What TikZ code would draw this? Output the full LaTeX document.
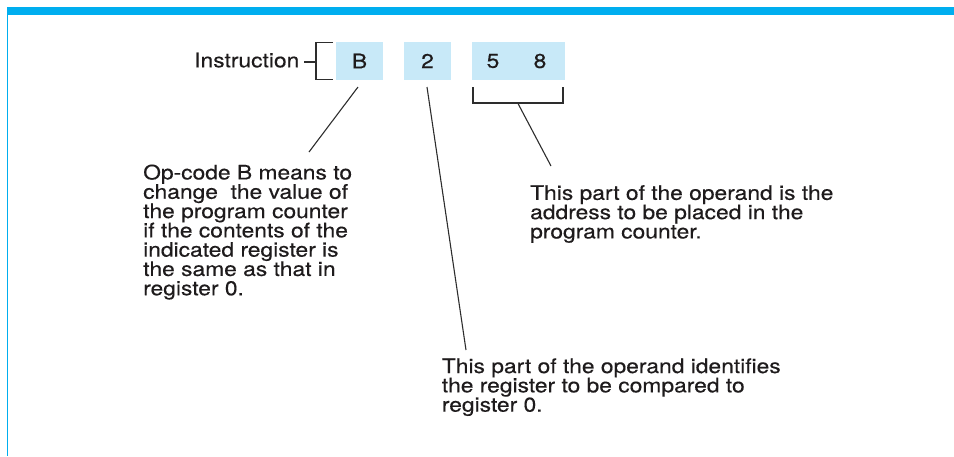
\documentclass[tikz,border=0pt]{standalone}
\usepackage{fontspec}
\setmainfont[FakeStretch=1.14,FakeBold=0.35]{TeX Gyre Heros}
\definecolor{barcyan}{RGB}{0,174,239}
\definecolor{boxblue}{RGB}{200,233,248}
\definecolor{ink}{RGB}{30,27,28}
\definecolor{wire}{RGB}{45,45,45}
\tikzset{
  lbl/.style={inner sep=0pt, text=ink, font=\fontsize{20pt}{19.3pt}\selectfont, align=left},
  field/.style={fill=boxblue, draw=none, inner sep=0pt, text=ink, font=\fontsize{20pt}{19.3pt}\selectfont},
  wirestyle/.style={draw=wire, line width=1.1pt},
}
\begin{document}
\begin{tikzpicture}[x=1pt,y=-1pt]
\useasboundingbox (0,0) rectangle (954,456);
% frame
\fill[barcyan] (7,7) rectangle (954,15);
\fill[barcyan] (7,15) rectangle (8.4,456);

% instruction fields
\node[field, minimum width=47pt, minimum height=38pt] (fb) at (359.5,61) {B};
\node[field, minimum width=47pt, minimum height=38pt] (f2) at (427.5,61) {2};
\node[field, minimum width=93pt, minimum height=38pt] (f58) at (518.5,61) {};
\node[lbl] (d5) at (493,61) {5};
\node[lbl] (d8) at (540,61) {8};

\node[lbl, anchor=base east] (instr) at (299.5,67.3) {Instruction};

% bracket at left of the instruction
\coordinate (tk1) at (304,62);
\coordinate (tk2) at (316,62);
\coordinate (bt) at (316,42.5);
\coordinate (bb) at (316,79.5);
\coordinate (btr) at (333,42.5);
\coordinate (bbr) at (333,79.5);
\draw[wirestyle] (tk1) -- (tk2);
\draw[wirestyle] (btr) -- (bt) -- (bb) -- (bbr);

% bracket under 5 8
\coordinate (u1) at (473,87);
\coordinate (u2) at (473,103);
\coordinate (u3) at (563,103);
\coordinate (u4) at (563,87);
\draw[wirestyle] (u1) -- (u2) -- (u3) -- (u4);

% explanation texts
\node[lbl, anchor=north west] (topc) at (143,164.3)
  {Op-code B means to\\change\ \ the value of\\the program counter\\if the contents of the\\indicated register is\\the same as that in\\register 0.};
\node[lbl, anchor=north west] (tadr) at (530,185)
  {This part of the operand is the\\address to be placed in the\\program counter.};
\node[lbl, anchor=north west] (treg) at (441.7,358.2)
  {This part of the operand identifies\\the register to be compared to\\register 0.};

% leader lines
\coordinate (lb1) at (358,87);
\coordinate (lb2) at (309,152);
\coordinate (l21) at (427,87);
\coordinate (l22) at (466,350);
\coordinate (l81) at (518,103.5);
\coordinate (l82) at (551,166);
\draw[wirestyle] (lb1) -- (lb2);
\draw[wirestyle] (l21) -- (l22);
\draw[wirestyle] (l81) -- (l82);
\end{tikzpicture}
\end{document}
